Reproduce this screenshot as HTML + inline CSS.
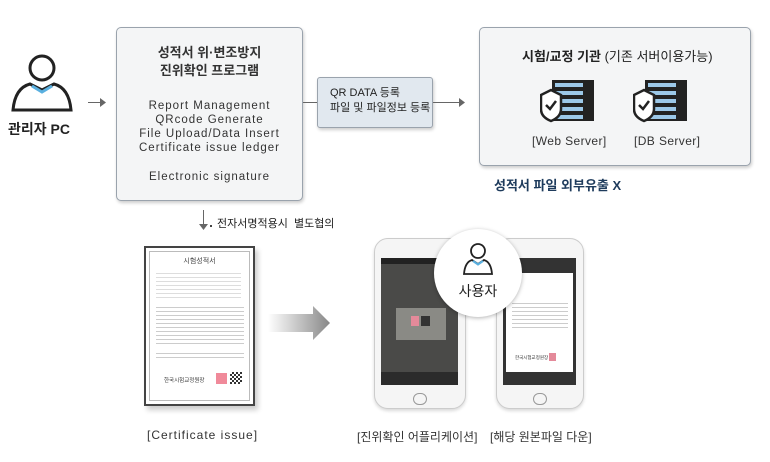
<!DOCTYPE html>
<html><head><meta charset="utf-8"><style>
*{margin:0;padding:0;box-sizing:border-box}
body{width:770px;height:462px;background:#fff;position:relative;overflow:hidden;font-family:"Liberation Sans","Noto Sans CJK KR",sans-serif;color:#333}
.a{position:absolute}
.box{position:absolute;background:#f4f5f6;border:1px solid #9aa3ad;border-radius:5px;box-shadow:1px 2px 3px rgba(0,0,0,.2)}
.c{text-align:center}
.ln{position:absolute;height:1px;background:#666}
</style></head><body>

<!-- admin icon -->
<svg class="a" style="left:10px;top:50px" width="64" height="64" viewBox="0 0 64 64">
<circle cx="32" cy="18" r="12" fill="#fff" stroke="#222" stroke-width="3"/>
<path d="M3 60 Q5 38 20 34 L32 40 L44 34 Q59 38 61 60 Z" fill="#fff" stroke="#222" stroke-width="3"/>
<path d="M22 36 L32 42 L42 36" fill="none" stroke="#5ab0e0" stroke-width="3"/>
</svg>
<div class="a" style="left:8px;top:119px;font-size:14px;font-weight:bold;color:#222">관리자 PC</div>
<div class="ln" style="left:88px;top:102px;width:16px"></div>
<svg class="a" style="left:100px;top:98px" width="6" height="9"><path d="M0 0 L6 4.5 L0 9Z" fill="#666"/></svg>

<!-- program box -->
<div class="box" style="left:116px;top:27px;width:187px;height:174px"></div>
<div class="a c" style="left:116px;top:44px;width:187px;font-size:13px;font-weight:bold;line-height:18px;color:#333">성적서 위·변조방지<br>진위확인 프로그램</div>
<div class="a c" style="left:110px;top:99px;width:199px;font-size:11.5px;line-height:14px;letter-spacing:1px;color:#333">Report Management<br>QRcode Generate<br>File Upload/Data Insert<br>Certificate issue ledger</div>
<div class="a c" style="left:110px;top:171px;width:199px;font-size:11.5px;letter-spacing:1px;color:#333">Electronic signature</div>

<div class="ln" style="left:303px;top:102px;width:15px"></div>
<div class="a" style="left:317px;top:77px;width:116px;height:51px;background:#e1e8ef;border:1px solid #9aa3ad;border-radius:3px;box-shadow:1px 2px 3px rgba(0,0,0,.2)"></div>
<div class="a" style="left:330px;top:86px;font-size:11px;line-height:15px;color:#222">QR DATA 등록<br>파일 및 파일정보 등록</div>
<div class="ln" style="left:433px;top:102px;width:30px"></div>
<svg class="a" style="left:459px;top:98px" width="6" height="9"><path d="M0 0 L6 4.5 L0 9Z" fill="#666"/></svg>

<!-- right box -->
<div class="box" style="left:479px;top:27px;width:272px;height:139px"></div>
<div class="a" style="left:522px;top:46px;font-size:13px;color:#222"><b>시험/교정 기관</b> (기존 서버이용가능)</div>
<svg class="a" style="left:540px;top:79px" width="56" height="44" viewBox="0 0 56 44">
<rect x="12" y="1" width="42" height="41" fill="#222"/>
<rect x="15" y="4" width="28" height="4" fill="#9cc8e8"/><rect x="15" y="12" width="28" height="4" fill="#9cc8e8"/><rect x="15" y="20" width="28" height="4" fill="#9cc8e8"/><rect x="15" y="28" width="28" height="4" fill="#9cc8e8"/><rect x="15" y="36" width="28" height="4" fill="#9cc8e8"/>
<rect x="45" y="4" width="6" height="36" fill="#fff" opacity=".0"/>
<path d="M1 16 L11 11 L21 16 L21 30 Q21 38 11 42 Q1 38 1 30Z" fill="#fff" stroke="#222" stroke-width="2.5"/>
<path d="M6 26 L10 30 L16 22" fill="none" stroke="#222" stroke-width="2.5"/>
</svg>
<svg class="a" style="left:633px;top:79px" width="56" height="44" viewBox="0 0 56 44">
<rect x="12" y="1" width="42" height="41" fill="#222"/>
<rect x="15" y="4" width="28" height="4" fill="#9cc8e8"/><rect x="15" y="12" width="28" height="4" fill="#9cc8e8"/><rect x="15" y="20" width="28" height="4" fill="#9cc8e8"/><rect x="15" y="28" width="28" height="4" fill="#9cc8e8"/><rect x="15" y="36" width="28" height="4" fill="#9cc8e8"/>
<path d="M1 16 L11 11 L21 16 L21 30 Q21 38 11 42 Q1 38 1 30Z" fill="#fff" stroke="#222" stroke-width="2.5"/>
<path d="M6 26 L10 30 L16 22" fill="none" stroke="#222" stroke-width="2.5"/>
</svg>
<div class="a" style="left:532px;top:134px;font-size:12px;letter-spacing:.4px;color:#333">[Web Server]</div>
<div class="a" style="left:634px;top:134px;font-size:12px;letter-spacing:.4px;color:#333">[DB Server]</div>
<div class="a" style="left:494px;top:175px;font-size:13px;font-weight:bold;color:#1e3b5c">성적서 파일 외부유출 X</div>

<!-- down arrow -->
<div class="a" style="left:203px;top:210px;width:1px;height:16px;background:#666"></div>
<svg class="a" style="left:199px;top:224px" width="9" height="6"><path d="M0 0 L9 0 L4.5 6Z" fill="#666"/></svg>
<div class="a" style="left:210px;top:225px;width:2px;height:2px;background:#444"></div>
<div class="a" style="left:217px;top:215px;font-size:11px;color:#222">전자서명적용시 &nbsp;별도협의</div>

<!-- certificate -->
<div class="a" style="left:144px;top:246px;width:111px;height:160px;border:2px solid #444;background:#fff;box-shadow:3px 4px 5px rgba(0,0,0,.2)">
<div class="a" style="left:3px;top:3px;right:3px;bottom:3px;border:1px solid #bbb"></div>
<div class="a c" style="left:0;top:8px;width:107px;font-size:7px;color:#444">시험성적서</div>
<div class="a" style="left:10px;top:22px;width:85px;height:30px;background:repeating-linear-gradient(#fff 0 3px,#ddd 3px 4px)"></div>
<div class="a" style="left:10px;top:56px;width:88px;height:40px;background:repeating-linear-gradient(#fff 0 3px,#ccc 3px 4px)"></div>
<div class="a" style="left:10px;top:102px;width:88px;height:10px;background:repeating-linear-gradient(#fff 0 3px,#ccc 3px 4px)"></div>
<div class="a" style="left:18px;top:128px;font-size:5.5px;color:#333">한국시험교정원장</div>
<div class="a" style="left:70px;top:125px;width:11px;height:11px;background:#f08a9a"></div>
<div class="a" style="left:84px;top:124px;width:12px;height:12px;background:repeating-conic-gradient(#333 0 25%,#fff 0 50%) 0 0/4px 4px"></div>
</div>

<!-- gradient arrow -->
<svg class="a" style="left:268px;top:306px" width="62" height="34"><defs><linearGradient id="g"><stop offset="0" stop-color="#fff"/><stop offset="1" stop-color="#888"/></linearGradient></defs><path d="M0 8 L45 8 L45 0 L62 17 L45 34 L45 26 L0 26Z" fill="url(#g)"/></svg>

<!-- phone 1 -->
<div class="a" style="left:374px;top:238px;width:92px;height:171px;border-radius:14px;background:#f5f5f5;border:1px solid #ccc;box-shadow:0 2px 3px rgba(0,0,0,.15)"></div>
<div class="a" style="left:381px;top:258px;width:77px;height:127px;background:#4a4a48"></div>
<div class="a" style="left:381px;top:258px;width:77px;height:6px;background:#222"></div>
<div class="a" style="left:396px;top:308px;width:50px;height:32px;background:#8a8a85"></div>
<div class="a" style="left:411px;top:316px;width:8px;height:10px;background:#e48a9a"></div>
<div class="a" style="left:421px;top:316px;width:9px;height:10px;background:#333"></div>
<div class="a" style="left:381px;top:372px;width:77px;height:13px;background:#2b2b2b"></div>
<div class="a" style="left:413px;top:393px;width:14px;height:12px;border:1px solid #999;border-radius:7px"></div>
<!-- phone 2 -->
<div class="a" style="left:496px;top:238px;width:88px;height:171px;border-radius:14px;background:#f5f5f5;border:1px solid #ccc;box-shadow:0 2px 3px rgba(0,0,0,.15)"></div>
<div class="a" style="left:503px;top:258px;width:73px;height:127px;background:#333"></div>
<div class="a" style="left:506px;top:273px;width:67px;height:99px;background:#fff"></div>
<div class="a" style="left:512px;top:300px;width:56px;height:30px;background:repeating-linear-gradient(#fff 0 3px,#ccc 3px 4px)"></div>
<div class="a" style="left:515px;top:355px;font-size:4.5px;color:#333">한국시험교정원장</div>
<div class="a" style="left:549px;top:353px;width:7px;height:8px;background:#e48a9a"></div>
<div class="a" style="left:533px;top:393px;width:14px;height:12px;border:1px solid #999;border-radius:7px"></div>
<!-- user circle -->
<div class="a" style="left:434px;top:229px;width:88px;height:88px;border-radius:50%;background:#fff;box-shadow:0 1px 4px rgba(0,0,0,.3)"></div>
<svg class="a" style="left:462px;top:242px" width="32" height="34" viewBox="0 0 32 34">
<circle cx="16" cy="9" r="7" fill="#fff" stroke="#222" stroke-width="1.8"/>
<path d="M2 32 Q3 20 10 18 L16 22 L22 18 Q29 20 30 32Z" fill="#fff" stroke="#222" stroke-width="1.8"/>
<path d="M11 19 L16 22.5 L21 19" fill="none" stroke="#5ab0e0" stroke-width="2"/>
</svg>
<div class="a c" style="left:434px;top:281px;width:88px;font-size:14px;color:#222">사용자</div>

<!-- bottom labels -->
<div class="a" style="left:147px;top:428px;font-size:12px;letter-spacing:1px;color:#333">[Certificate issue]</div>
<div class="a" style="left:357px;top:428px;font-size:12px;color:#333">[진위확인 어플리케이션]</div>
<div class="a" style="left:490px;top:428px;font-size:12px;color:#333">[해당 원본파일 다운]</div>
</body></html>
